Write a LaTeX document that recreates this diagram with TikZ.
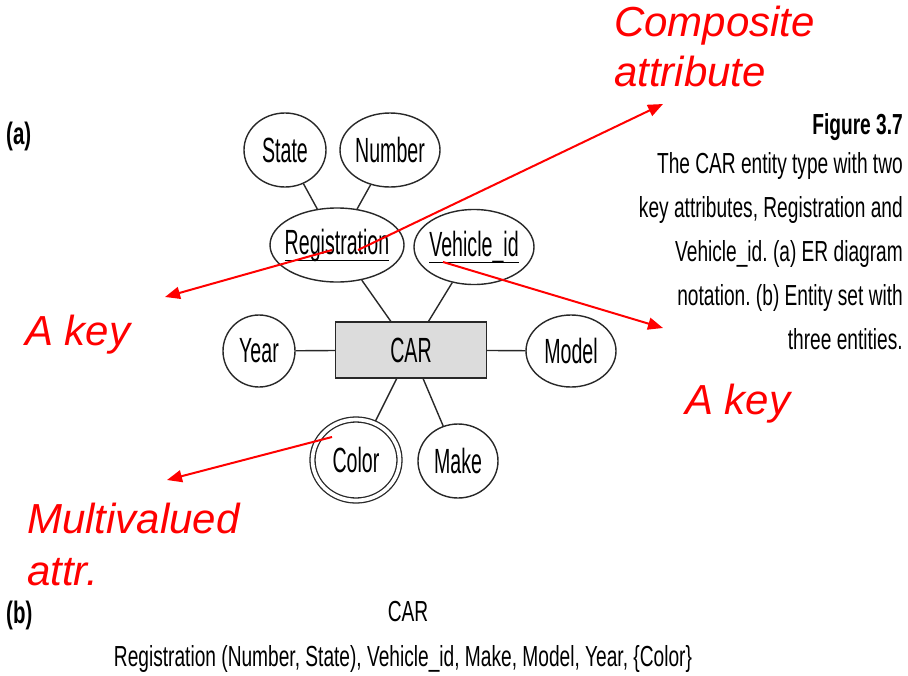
\documentclass[tikz,border=0pt]{standalone}
\usepackage{fontspec}
\setmainfont{Liberation Sans}
\newfontfamily\condfont[FakeStretch=0.66]{Liberation Sans}
\newfontfamily\narrowfont[FakeStretch=0.56]{Liberation Sans}
\usetikzlibrary{shapes.geometric,arrows.meta}
\definecolor{annot}{RGB}{255,0,0}
\definecolor{carfill}{RGB}{220,220,220}
\definecolor{ink}{RGB}{40,40,40}
% key attribute: text with a rule drawn under it
\newcommand\keyattr[1]{\setbox0\hbox{#1}\rlap{\rule[-7pt]{\wd0}{1.3pt}}\box0}
\frenchspacing

\begin{document}
\begin{tikzpicture}[x=1pt,y=-1pt,
  attr/.style={ellipse, draw=ink, line width=1.4pt, inner sep=0pt,
    font=\narrowfont\fontsize{35}{40}\selectfont},
  multiattr/.style={attr, line width=1.3pt, double, double distance=3.7pt, outer sep=2.6pt},
  entity/.style={rectangle, draw=ink, fill=carfill, line width=1.4pt,
    minimum width=151pt, minimum height=56pt, inner sep=0pt,
    font=\narrowfont\fontsize{35}{40}\selectfont},
  link/.style={draw=ink, line width=1.4pt},
  note/.style={text=annot, inner sep=0pt, font=\itshape\fontsize{42}{50}\selectfont},
  pointer/.style={draw=annot, line width=2pt, -{Triangle[length=15pt,width=12pt]}},
  caption/.style={inner sep=0pt, font=\condfont\fontsize{29}{35}\selectfont},
  label/.style={inner sep=0pt, font=\condfont\bfseries\fontsize{29}{35}\selectfont},
  partlabel/.style={inner sep=0pt, font=\condfont\bfseries\fontsize{31}{36}\selectfont},
]
\useasboundingbox[fill=white] (0,0) rectangle (908,675);

% ER diagram, part (a)
\node[partlabel, anchor=base west] (parta) at (6,144) {(a)};

\node[attr, minimum width=82pt, minimum height=74pt] (state) at (285,150) {\makebox[0pt]{State}};
\node[attr, minimum width=100pt, minimum height=74pt] (number) at (390,150) {\makebox[0pt]{Number}};
\node[attr, minimum width=134pt, minimum height=74pt] (reg) at (337,245) {\makebox[0pt]{\keyattr{Registration}}};
\node[attr, minimum width=120pt, minimum height=75pt] (vid) at (474,247) {\makebox[0pt]{\keyattr{Vehicle\_id}}};
\node[entity] (car) at (411,350) {CAR};
\node[attr, minimum width=72pt, minimum height=72pt] (year) at (259,351) {\makebox[0pt]{Year}};
\node[attr, minimum width=90pt, minimum height=72pt] (model) at (571,351) {\makebox[0pt]{Model}};
\node[multiattr, minimum width=87pt, minimum height=81pt] (color) at (356,460) {\makebox[0pt]{Color}};
\node[attr, minimum width=80pt, minimum height=74pt] (make) at (458,461) {\makebox[0pt]{Make}};

\draw[link] (state) -- (reg);
\draw[link] (number) -- (reg);
\draw[link] (car) -- (reg);
\draw[link] (car) -- (vid);
\draw[link] (car) -- (year);
\draw[link] (car) -- (model);
\draw[link] (car) -- (color);
\draw[link] (car) -- (make);

% figure caption
\node[label, anchor=base east] (figno) at (903,134) {Figure 3.7};
\node[caption, anchor=base east] (cap1) at (903,173) {The CAR entity type with two};
\node[caption, anchor=base east] (cap2) at (903,217) {key attributes, Registration and};
\node[caption, anchor=base east] (cap3) at (903,261) {Vehicle\_id. (a) ER diagram};
\node[caption, anchor=base east] (cap4) at (903,305) {notation. (b) Entity set with};
\node[caption, anchor=base east] (cap5) at (903,349) {three entities.};

% entity set, part (b)
\node[partlabel, anchor=base west] (partb) at (6,623) {(b)};
\node[caption, anchor=base] (setname) at (408,621) {CAR};
\node[caption, anchor=base] (setattrs) at (403,666) {Registration (Number, State), Vehicle\_id, Make, Model, Year, \{Color\}};

% annotations
\node[note, anchor=base west] (comp1) at (614,36) {Composite};
\node[note, anchor=base west] (comp2) at (614,86) {attribute};
\node[note, anchor=base west] (key1) at (25,345) {A key};
\node[note, anchor=base west] (key2) at (685,414) {A key};
\node[note, anchor=base west] (multi1) at (27,533) {Multivalued};
\node[note, anchor=base west] (multi2) at (27,585) {attr.};

\coordinate (compFrom) at (358,250);
\coordinate (compTo) at (663,104);
\coordinate (keyAFrom) at (332,250);
\coordinate (keyATo) at (165,297);
\coordinate (keyBFrom) at (443,262);
\coordinate (keyBTo) at (663,328);
\coordinate (multiFrom) at (332,437);
\coordinate (multiTo) at (167,480);

\draw[pointer] (compFrom) -- (compTo);
\draw[pointer] (keyAFrom) -- (keyATo);
\draw[pointer] (keyBFrom) -- (keyBTo);
\draw[pointer] (multiFrom) -- (multiTo);
\end{tikzpicture}
\end{document}
